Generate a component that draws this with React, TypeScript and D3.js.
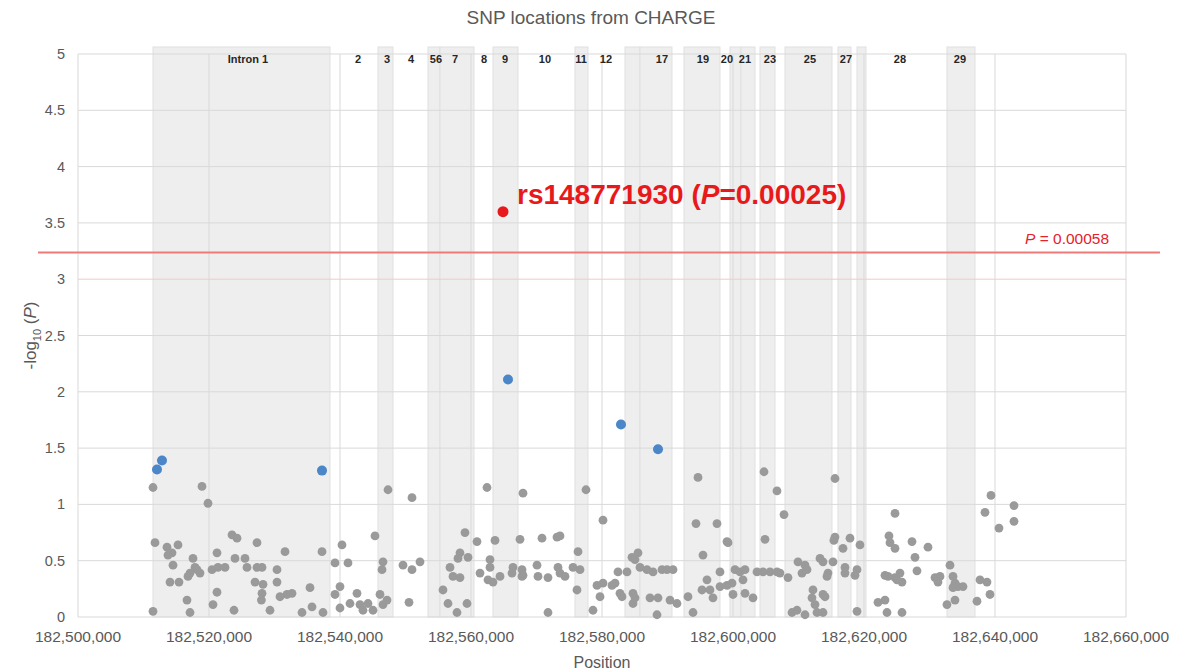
import React from "react";
import * as d3 from "d3";

// ---- data ----
const xTicks = [182500000, 182520000, 182540000, 182560000, 182580000, 182600000, 182620000, 182640000, 182660000];
const yTicks = [0, 0.5, 1, 1.5, 2, 2.5, 3, 3.5, 4, 4.5, 5];

// shaded exon/intron regions [start, end]
const bands: [number, number][] = [
  [182511450, 182538473],
  [182545801, 182548091],
  [182553435, 182555267],
  [182555267, 182560457],
  [182563358, 182567175],
  [182575877, 182577862],
  [182583510, 182585801],
  [182585801, 182590686],
  [182592518, 182598014],
  [182599541, 182601221],
  [182601221, 182603358],
  [182604121, 182606411],
  [182607937, 182615113],
  [182616030, 182618014],
  [182618930, 182620304],
  [182632668, 182636945],
];

const bandLabels = ["Intron 1", "2", "3", "4", "56", "7", "8", "9", "10", "11", "12", "17", "19", "20", "21", "23", "25", "27", "28", "29"];
const bandLabelPos = [182525954, 182542748, 182547175, 182550839, 182554656, 182557557, 182561984, 182565190, 182571297, 182576793, 182580610, 182589159, 182595419, 182599083, 182601831, 182605648, 182611755, 182617251, 182625494, 182634655];

// gray SNPs: [position, -log10 P]
const graySnps: [number, number][] = [
  [182511450, 1.15], [182518931, 1.16], [182519847, 1.01], [182511756, 0.66], [182513588, 0.62],
  [182514351, 0.57], [182515267, 0.64], [182513740, 0.55], [182514504, 0.46], [182514046, 0.31],
  [182515420, 0.31], [182516641, 0.15], [182517099, 0.04], [182511450, 0.05], [182517557, 0.52],
  [182517862, 0.44], [182517099, 0.39], [182518168, 0.42], [182518626, 0.39], [182516794, 0.36],
  [182520458, 0.42], [182521374, 0.44], [182522442, 0.44], [182521221, 0.57], [182521221, 0.22],
  [182520610, 0.11], [182523511, 0.73], [182524275, 0.70], [182523969, 0.52], [182525496, 0.52],
  [182525801, 0.44], [182527328, 0.44], [182528091, 0.44], [182527328, 0.66], [182527023, 0.31],
  [182528244, 0.29], [182528091, 0.21], [182528000, 0.15], [182530381, 0.42], [182530381, 0.31],
  [182531603, 0.58], [182530839, 0.18], [182531908, 0.20], [182532671, 0.21], [182529313, 0.06],
  [182523817, 0.06], [182534198, 0.04], [182535419, 0.26], [182535725, 0.09], [182537251, 0.58],
  [182537404, 0.04], [182539236, 0.48], [182541221, 0.48], [182540305, 0.64], [182539999, 0.27],
  [182539236, 0.20], [182539999, 0.08], [182541526, 0.12], [182542595, 0.21], [182543053, 0.11],
  [182543511, 0.06], [182544274, 0.12], [182545038, 0.06], [182546106, 0.20], [182547175, 0.15],
  [182546564, 0.11], [182545343, 0.72], [182546564, 0.49], [182546412, 0.42], [182547328, 1.13],
  [182549618, 0.46], [182550992, 0.42], [182552213, 0.49], [182550992, 1.06], [182550534, 0.13],
  [182555725, 0.24], [182556793, 0.44], [182557251, 0.36], [182558320, 0.35], [182559083, 0.75],
  [182560915, 0.67], [182558320, 0.57], [182559541, 0.53], [182558015, 0.52], [182556488, 0.12],
  [182557862, 0.04], [182559389, 0.12], [182562442, 1.15], [182563663, 0.68], [182562900, 0.51],
  [182562900, 0.44], [182561373, 0.39], [182562595, 0.33], [182563358, 0.31],
  [182567938, 1.10], [182577556, 1.13], [182580152, 0.86], [182567480, 0.69], [182570839, 0.70],
  [182573129, 0.71], [182573587, 0.72], [182566411, 0.44], [182567785, 0.42], [182567785, 0.36],
  [182566259, 0.39], [182567938, 0.37], [182564427, 0.36], [182570076, 0.46], [182570228, 0.36],
  [182571755, 0.35], [182573282, 0.44], [182573587, 0.39], [182574350, 0.36], [182575572, 0.44],
  [182576640, 0.42], [182576335, 0.58], [182576182, 0.24], [182571755, 0.04], [182578625, 0.06],
  [182579694, 0.18], [182579236, 0.28], [182580152, 0.30], [182581526, 0.28], [182581984, 0.30],
  [182582747, 0.21], [182583052, 0.18], [182584732, 0.21], [182584732, 0.12], [182585037, 0.17],
  [182582442, 0.40], [182583816, 0.40], [182584579, 0.53], [182585495, 0.57], [182585037, 0.51],
  [182585801, 0.44], [182586869, 0.42], [182587785, 0.40], [182589159, 0.42], [182589923, 0.42],
  [182590839, 0.42], [182587327, 0.17], [182588549, 0.17], [182590381, 0.15], [182591449, 0.12],
  [182588396, 0.02], [182593129, 0.18], [182593892, 0.04], [182594655, 1.24], [182594350, 0.83],
  [182597556, 0.83], [182595419, 0.55], [182596029, 0.33], [182595266, 0.24], [182596487, 0.24],
  [182596945, 0.17], [182598014, 0.40], [182598014, 0.27], [182599083, 0.28], [182599846, 0.30],
  [182599083, 0.67], [182599236, 0.66], [182599999, 0.20], [182600304, 0.42], [182601068, 0.40],
  [182601831, 0.42], [182601526, 0.33], [182601831, 0.21], [182603052, 0.17], [182603663, 0.40],
  [182604579, 0.40], [182604732, 1.29], [182604884, 0.69], [182605648, 0.40], [182606716, 0.40],
  [182607174, 0.39], [182606716, 1.12], [182607785, 0.91], [182608396, 0.35], [182609006, 0.04],
  [182609770, 0.06], [182610991, 0.02], [182609922, 0.49], [182610991, 0.46], [182610533, 0.39],
  [182611296, 0.42], [182612212, 0.24], [182612059, 0.17], [182612517, 0.11], [182613739, 0.20],
  [182613739, 0.04], [182612823, 0.04], [182613281, 0.52], [182613739, 0.49], [182614503, 0.39],
  [182614350, 0.36], [182615571, 1.23], [182615571, 0.71], [182615400, 0.68], [182615266, 0.49],
  [182614046, 0.18],
  [182616793, 0.61], [182617861, 0.70], [182619388, 0.64], [182617098, 0.44], [182617098, 0.39],
  [182618930, 0.42], [182618625, 0.37], [182618930, 0.05], [182624731, 0.92], [182623815, 0.72],
  [182623968, 0.66], [182624731, 0.61], [182623205, 0.37], [182623663, 0.36], [182624731, 0.35],
  [182625494, 0.39], [182625800, 0.31], [182625037, 0.33], [182622136, 0.13], [182623205, 0.15],
  [182623510, 0.04], [182625800, 0.04], [182627327, 0.67], [182629770, 0.62], [182627785, 0.53],
  [182628090, 0.41], [182630838, 0.35], [182631601, 0.36], [182631296, 0.31], [182633128, 0.46],
  [182633586, 0.36], [182633892, 0.30], [182634350, 0.27], [182635113, 0.27], [182633586, 0.26],
  [182632667, 0.11], [182633892, 0.15], [182637250, 0.14], [182637708, 0.33], [182638777, 0.31],
  [182639235, 0.20], [182638472, 0.93], [182639387, 1.08], [182640609, 0.79], [182642899, 0.99],
  [182642899, 0.85],
];

// highlighted SNPs
const blueSnps: [number, number][] = [
  [182512061, 1.31], [182512824, 1.39], [182537252, 1.30], [182565649, 2.11], [182582901, 1.71], [182588550, 1.49],
];
const topSnp: [number, number] = [182564885, 3.60];
const topSnpLabel = "rs148771930";
const topSnpP = "0.00025";
const thresholdP = 0.00058;

const W = 1180;
const H = 672;
const M = { left: 78, right: 1126, top: 54, bottom: 617 };
const FONT = "'Liberation Sans', Arial, sans-serif";
const TXT = "#595959";

export default function App() {
  const x = d3.scaleLinear().domain([182500000, 182660000]).range([M.left, M.right]);
  const y = d3.scaleLinear().domain([0, 5]).range([M.bottom, M.top]);
  const fmt = d3.format(",");
  const thrY = y(-Math.log10(thresholdP));

  return (
    <svg width={W} height={H} style={{ position: "absolute", left: 0, top: 0, background: "#fff" }} fontFamily={FONT}>
      <rect x={0} y={0} width={W} height={H} fill="#fff" />
      {/* title */}
      <text x={591} y={24} textAnchor="middle" fontSize={19} fill={TXT}>SNP locations from CHARGE</text>

      {/* bands */}
      {bands.map(([s, e], i) => (
        <rect key={"b" + i} x={x(s)} y={47} width={x(e) - x(s)} height={M.bottom - 47}
          fill="#eeeeee" stroke="#e0e0e0" strokeWidth={1} />
      ))}

      {/* horizontal grid */}
      {yTicks.map((t) => (
        <line key={"gy" + t} x1={M.left} x2={M.right} y1={y(t)} y2={y(t)}
          stroke={t === 3 ? "#f4c9c9" : "#d9d9d9"} strokeWidth={1} />
      ))}
      {/* vertical grid */}
      {xTicks.map((t) => (
        <line key={"gx" + t} x1={x(t)} x2={x(t)} y1={M.top} y2={M.bottom} stroke="#d9d9d9" strokeWidth={1} />
      ))}

      {/* band labels */}
      {bandLabels.map((l, i) => (
        <text key={"bl" + i} x={x(bandLabelPos[i])} y={63} textAnchor="middle" fontSize={11}
          fontWeight="bold" fill="#262626">{l}</text>
      ))}

      {/* y tick labels */}
      {yTicks.map((t) => (
        <text key={"ty" + t} x={65} y={y(t) + 5} textAnchor="end" fontSize={14.5} fill={TXT}>{t}</text>
      ))}
      {/* x tick labels */}
      {xTicks.map((t) => (
        <text key={"tx" + t} x={x(t)} y={642} textAnchor="middle" fontSize={15.5} fill={TXT}>{fmt(t)}</text>
      ))}

      {/* axis titles */}
      <text x={602} y={668} textAnchor="middle" fontSize={16} fill={TXT}>Position</text>
      <text transform={`translate(36, ${(M.top + M.bottom) / 2}) rotate(-90)`} textAnchor="middle" fontSize={17} fill={TXT}>
        -log<tspan fontSize={11} dy={5}>10</tspan><tspan dy={-5}> (</tspan><tspan fontStyle="italic">P</tspan>)
      </text>

      {/* threshold */}
      <line x1={38} x2={1160} y1={thrY} y2={thrY} stroke="#f07a7a" strokeWidth={2} />
      <text x={1025} y={thrY - 9} fontSize={15.5} fill="#e8202a">
        <tspan fontStyle="italic">P</tspan> = {thresholdP.toFixed(5)}
      </text>

      {/* gray points */}
      {graySnps.map(([p, v], i) => (
        <circle key={"g" + i} cx={x(p)} cy={y(v)} r={4.4} fill="#9a9a9a" />
      ))}
      {/* blue points */}
      {blueSnps.map(([p, v], i) => (
        <circle key={"bl" + i} cx={x(p)} cy={y(v)} r={5} fill="#4a86c8" />
      ))}
      {/* top SNP */}
      <circle cx={x(topSnp[0])} cy={y(topSnp[1])} r={5.5} fill="#e8191b" />
      <text x={x(topSnp[0]) + 14} y={y(topSnp[1]) - 8} fontSize={28} fontWeight="bold" fill="#e8191b">
        {topSnpLabel} (<tspan fontStyle="italic">P</tspan>={topSnpP})
      </text>
    </svg>
  );
}
